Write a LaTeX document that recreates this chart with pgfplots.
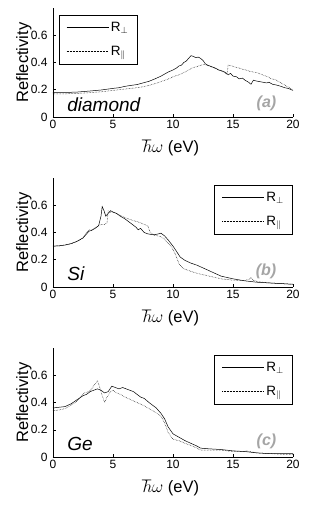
\documentclass[border=0pt]{standalone}
\usepackage{pgfplots}
\pgfplotsset{compat=1.18}
\usepackage{fontspec}
\setmainfont{Liberation Sans}
\definecolor{lblgray}{RGB}{165,165,165}
\newcommand{\tkfont}{\fontsize{12}{13}\selectfont}
\newcommand{\lbfont}{\fontsize{16.5}{18}\selectfont}
\newcommand{\lgfont}{\fontsize{13.5}{15}\selectfont}
\pgfplotsset{
  refl/.style={
    scale only axis, width=240pt, height=109pt,
    xmin=0, xmax=20, ymin=0, ymax=0.8,
    axis x line*=bottom, axis y line*=left,
    axis line style={black, line width=0.6pt, -},
    xtick={0,5,10,15,20}, ytick={0,0.2,0.4,0.6},
    xticklabels={\tkfont 0,\tkfont 5,\tkfont 10,\tkfont 15,\tkfont 20},
    yticklabels={\tkfont 0,\tkfont 0.2,\tkfont 0.4,\tkfont 0.6},
    tick align=inside, major tick length=3pt,
    tick style={black, line width=0.5pt},
    yticklabel style={xshift=-2pt},
    xlabel={\lbfont$\hbar\omega$ (eV)},
    ylabel={\lbfont Reflectivity},
    xlabel style={at={(axis description cs:0.49,-0.33)}, anchor=base},
    ylabel style={at={(axis description cs:-0.121,0.5)}, anchor=center},
    legend image code/.code={\draw[#1] (0pt,0pt) -- (42pt,0pt);},
    legend cell align=left,
    legend style={draw=black, line width=0.6pt, fill=white,
      inner xsep=7pt, inner ysep=5pt, row sep=9pt},
    every axis plot/.append style={black, line width=0.5pt},
  },
  rperp/.style={solid},
  rpar/.style={densely dotted},
}
\begin{document}
\begin{tikzpicture}[x=1pt,y=1pt]
\path[use as bounding box] (0,0) rectangle (312,517);

% ---------- (a) diamond
\begin{axis}[refl, at={(53pt,400pt)}, anchor=south west,
  legend style={at={(0.025,0.936)}, anchor=north west}]
\addplot[rperp] coordinates {(0,0.18)(1,0.18)(2,0.183)(3,0.19)(4,0.198)(5,0.21)(5.5,0.215)(6,0.225)(6.5,0.232)(7,0.238)(7.5,0.25)(8,0.262)(8.5,0.28)(9,0.30)(9.3,0.315)(9.6,0.33)(10,0.345)(10.3,0.36)(10.5,0.375)(10.7,0.38)(10.9,0.40)(11.1,0.41)(11.3,0.43)(11.5,0.45)(11.7,0.445)(11.9,0.435)(12.1,0.44)(12.3,0.43)(12.5,0.415)(12.7,0.39)(12.9,0.38)(13.2,0.37)(13.5,0.36)(13.8,0.345)(14.0,0.34)(14.2,0.335)(14.4,0.325)(14.6,0.31)(14.8,0.32)(15.0,0.30)(15.3,0.295)(15.5,0.28)(15.8,0.285)(16.0,0.27)(16.3,0.255)(16.5,0.24)(16.7,0.27)(16.9,0.265)(17.2,0.26)(17.5,0.255)(17.8,0.25)(18.0,0.255)(18.3,0.24)(18.6,0.235)(19.0,0.225)(19.3,0.215)(19.6,0.21)(20,0.195)};
\addplot[rpar] coordinates {(0,0.17)(1,0.17)(2,0.173)(3,0.178)(4,0.185)(5,0.195)(6,0.205)(7,0.215)(7.5,0.222)(8,0.232)(8.5,0.245)(9,0.26)(9.5,0.275)(10,0.295)(10.5,0.31)(11,0.33)(11.3,0.345)(11.6,0.36)(12,0.37)(12.3,0.38)(12.6,0.385)(13,0.375)(13.3,0.365)(13.6,0.355)(14,0.34)(14.3,0.325)(14.5,0.315)(14.6,0.38)(14.9,0.375)(15.2,0.365)(15.5,0.36)(15.8,0.35)(16.1,0.345)(16.4,0.335)(16.7,0.33)(17,0.325)(17.3,0.315)(17.6,0.305)(17.9,0.295)(18.2,0.28)(18.5,0.275)(18.8,0.26)(19.1,0.245)(19.4,0.23)(19.7,0.215)(20,0.2)};
\legend{\lgfont R$_{\perp}$, \lgfont R$_{\parallel}$}
\node[anchor=base west, font=\fontsize{19}{20}\selectfont\itshape] at (rel axis cs:0.045,0.055) {diamond};
\node[anchor=base east, text=lblgray, font=\fontsize{16}{17}\selectfont\bfseries\itshape] at (rel axis cs:0.945,0.09) {(a)};
\end{axis}

% ---------- (b) Si
\begin{axis}[refl, at={(53pt,230pt)}, anchor=south west,
  legend style={at={(1.0,0.936)}, anchor=north east}]
\addplot[rperp] coordinates {(0,0.30)(0.5,0.302)(1,0.308)(1.5,0.318)(2,0.335)(2.5,0.36)(2.8,0.39)(3,0.41)(3.2,0.415)(3.5,0.43)(3.8,0.45)(4.0,0.52)(4.1,0.59)(4.25,0.56)(4.4,0.52)(4.6,0.54)(4.8,0.56)(5,0.55)(5.3,0.54)(5.6,0.52)(6,0.50)(6.3,0.48)(6.6,0.46)(6.9,0.44)(7.1,0.42)(7.3,0.43)(7.6,0.40)(7.9,0.39)(8.2,0.385)(8.5,0.385)(8.8,0.39)(9.0,0.395)(9.3,0.375)(9.6,0.345)(10,0.30)(10.3,0.26)(10.6,0.22)(11,0.195)(11.5,0.175)(12,0.16)(12.5,0.14)(13,0.12)(13.5,0.10)(14,0.08)(14.5,0.07)(15,0.06)(16,0.045)(17,0.035)(18,0.03)(19,0.025)(20,0.02)};
\addplot[rpar] coordinates {(0,0.30)(0.5,0.302)(1,0.308)(1.5,0.318)(2,0.335)(2.5,0.36)(2.8,0.40)(3,0.42)(3.3,0.42)(3.6,0.44)(4.0,0.46)(4.3,0.46)(4.5,0.47)(4.6,0.56)(4.8,0.55)(5.0,0.55)(5.5,0.53)(6,0.51)(6.3,0.50)(6.6,0.49)(7,0.48)(7.3,0.47)(7.6,0.46)(7.9,0.45)(8.1,0.40)(8.4,0.38)(8.7,0.375)(9.0,0.37)(9.3,0.35)(9.6,0.32)(9.9,0.29)(10.2,0.24)(10.5,0.17)(10.8,0.14)(11,0.13)(11.5,0.115)(12,0.10)(12.5,0.09)(13,0.08)(14,0.06)(15,0.05)(16,0.048)(16.4,0.06)(16.5,0.07)(16.7,0.05)(17,0.04)(18,0.03)(19,0.025)(20,0.02)};
\legend{\lgfont R$_{\perp}$, \lgfont R$_{\parallel}$}
\node[anchor=base west, font=\fontsize{19}{20}\selectfont\itshape] at (rel axis cs:0.045,0.058) {Si};
\node[anchor=base east, text=lblgray, font=\fontsize{16}{17}\selectfont\bfseries\itshape] at (rel axis cs:0.945,0.11) {(b)};
\end{axis}

% ---------- (c) Ge
\begin{axis}[refl, at={(53pt,60pt)}, anchor=south west,
  legend style={at={(1.0,0.936)}, anchor=north east}]
\addplot[rperp] coordinates {(0,0.36)(0.5,0.365)(1,0.37)(1.5,0.39)(2,0.42)(2.5,0.45)(2.8,0.46)(3.1,0.48)(3.4,0.49)(3.7,0.50)(4.0,0.49)(4.3,0.47)(4.6,0.48)(4.9,0.52)(5.2,0.51)(5.5,0.50)(5.8,0.51)(6.1,0.50)(6.4,0.49)(6.7,0.48)(7.0,0.46)(7.3,0.44)(7.6,0.43)(8.0,0.40)(8.3,0.38)(8.6,0.36)(9.0,0.32)(9.3,0.28)(9.6,0.22)(10,0.17)(10.5,0.145)(11,0.12)(11.5,0.10)(12,0.08)(12.3,0.065)(13,0.06)(14,0.055)(15,0.045)(16,0.04)(17,0.03)(18,0.025)(19,0.025)(20,0.025)};
\addplot[rpar] coordinates {(0,0.34)(0.5,0.345)(1,0.355)(1.5,0.38)(2,0.41)(2.3,0.44)(2.6,0.47)(3.0,0.48)(3.3,0.51)(3.7,0.56)(3.9,0.51)(4.1,0.45)(4.3,0.40)(4.5,0.44)(4.8,0.48)(5.0,0.49)(5.3,0.47)(5.6,0.46)(6,0.44)(6.5,0.42)(7,0.40)(7.5,0.38)(8,0.355)(8.5,0.33)(9,0.30)(9.3,0.25)(9.6,0.18)(10,0.13)(10.5,0.12)(11,0.10)(11.5,0.085)(12,0.065)(12.3,0.05)(13,0.05)(14,0.05)(15,0.04)(16,0.04)(16.1,0.045)(17,0.03)(18,0.025)(19,0.02)(20,0.02)};
\legend{\lgfont R$_{\perp}$, \lgfont R$_{\parallel}$}
\node[anchor=base west, font=\fontsize{19}{20}\selectfont\itshape] at (rel axis cs:0.045,0.058) {Ge};
\node[anchor=base east, text=lblgray, font=\fontsize{16}{17}\selectfont\bfseries\itshape] at (rel axis cs:0.945,0.11) {(c)};
\end{axis}
\end{tikzpicture}
\end{document}
